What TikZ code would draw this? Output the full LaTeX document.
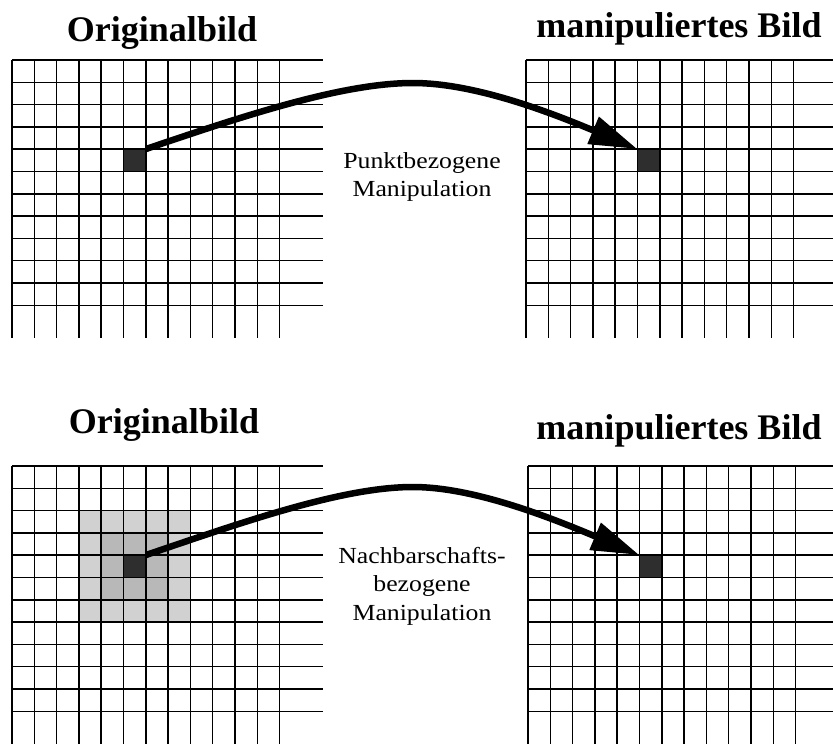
\documentclass[tikz,border=0pt]{standalone}
\usepackage{fontspec}
\setmainfont{Liberation Serif}
\newfontfamily\notefont{Liberation Serif}[FakeStretch=1.12]
\usepackage{tikz}
\usetikzlibrary{arrows.meta}

\begin{document}
\begin{tikzpicture}[x=1pt,y=-1pt,
    gridline/.style={line width=1.5pt,black},
    pixel/.style={rectangle,inner sep=0pt,minimum size=22.3pt,fill=black!82},
    heading/.style={anchor=base,font=\bfseries\fontsize{36}{40}\selectfont},
    note/.style={align=center,inner sep=0pt,font=\notefont\fontsize{23}{28.5}\selectfont},
    maparrow/.style={line width=6.5pt,-{Triangle[length=48pt,width=28pt]}}]
  \useasboundingbox (0,0) rectangle (833,747);
  \clip (0,0) rectangle (833,747);
  \fill[white] (0,0) rectangle (833,747);
  % Neighbourhood in the lower original image
  \fill[black!18] ({12+3*22.3},{466+2*22.3}) rectangle ++(111.5,111.5);
  \fill[black!28] ({12+4*22.3},{466+3*22.3}) rectangle ++(66.9,66.9);
  % Source and target pixels
  \node[pixel] (srcA) at ({12+5.5*22.3},{60+4.5*22.3}) {};
  \node[pixel] (dstA) at ({526+5.5*22.3},{60+4.5*22.3}) {};
  \node[pixel] (srcB) at ({12+5.5*22.3},{466+4.5*22.3}) {};
  \node[pixel] (dstB) at ({528+5.5*22.3},{466+4.5*22.3}) {};
  % The four pixel grids
  \foreach \gx/\gy in {12/60, 526/60, 12/466, 528/466} {
    \foreach \i in {0,...,12}
      \draw[gridline] ({\gx+\i*22.3},\gy) -- ++(0,278);
    \foreach \j in {0,...,11}
      \draw[gridline] (\gx,{\gy+\j*22.3}) -- ++(311,0);
  }
  % Headings
  \node[heading] (origA) at (162,41) {Originalbild};
  \node[heading] (manA) at (679,37) {manipuliertes Bild};
  \node[heading] (origB) at (164,433) {Originalbild};
  \node[heading] (manB) at (679,439) {manipuliertes Bild};
  % Point operation
  \coordinate (peakA) at (413,83);
  \draw[maparrow] (srcA.north east) .. controls +(100,-34) and +(-70,0) .. (peakA)
    .. controls +(60,0) and +(-90,-38) .. (dstA.north west);
  \node[note] (opA) at (422,177) {Punktbezogene\\Manipulation};
  % Neighbourhood operation
  \coordinate (peakB) at (413,487);
  \draw[maparrow] (srcB.north east) .. controls +(100,-34) and +(-70,0) .. (peakB)
    .. controls +(60,0) and +(-90,-38) .. (dstB.north west);
  \node[note] (opB) at (422,586) {Nachbarschafts-\\bezogene\\Manipulation};
\end{tikzpicture}
\end{document}
